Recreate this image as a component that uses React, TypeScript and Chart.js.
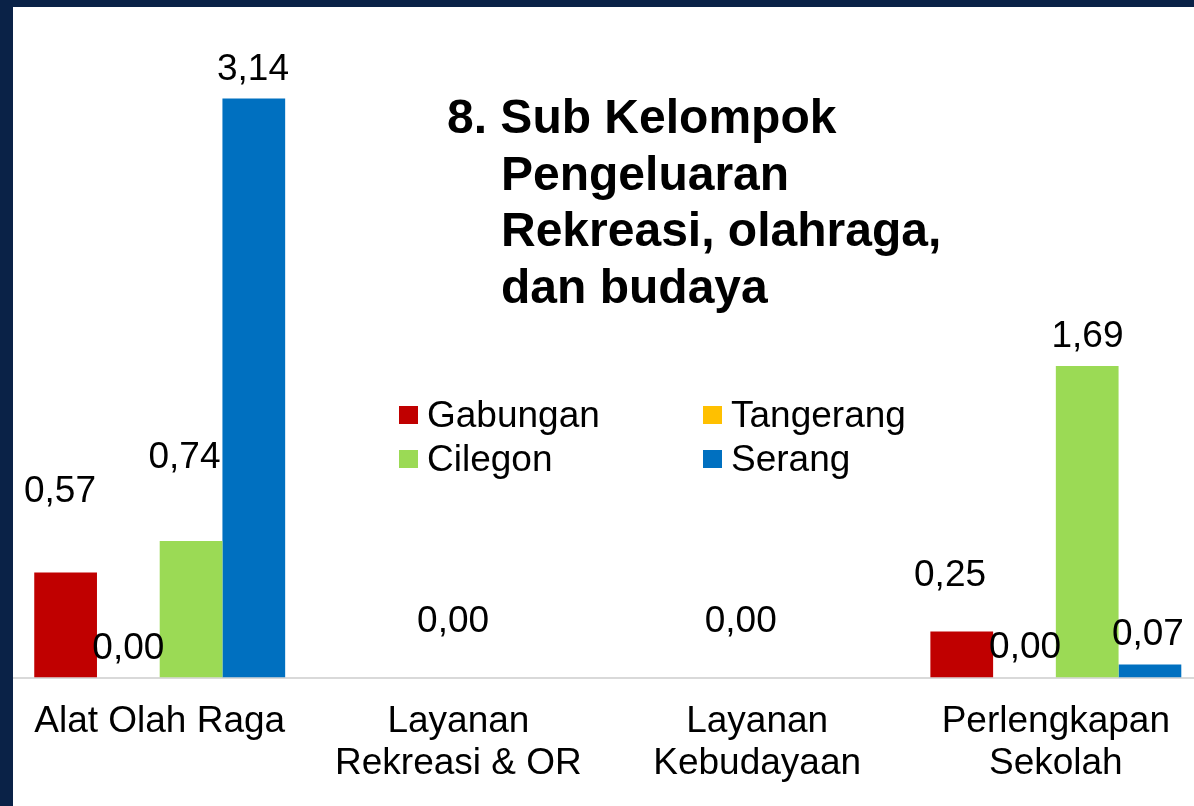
import React, { useEffect, useRef } from "react";
import { Chart, registerables } from "chart.js";

Chart.register(...registerables);

// ---- data ----
const categories: string[][] = [
  ["Alat Olah Raga"],
  ["Layanan", "Rekreasi & OR"],
  ["Layanan", "Kebudayaan"],
  ["Perlengkapan", "Sekolah"],
];
const seriesNames = ["Gabungan", "Tangerang", "Cilegon", "Serang"];
const gabungan = [0.57, 0.0, 0.0, 0.25];
const tangerang = [0.0, 0.0, 0.0, 0.0];
const cilegon = [0.74, 0.0, 0.0, 1.69];
const serang = [3.14, 0.0, 0.0, 0.07];
const titleLines = ["8. Sub Kelompok", "Pengeluaran", "Rekreasi, olahraga,", "dan budaya"];

// ---- styling / placement (not data) ----
const colors = ["#C00000", "#FFC000", "#9BDA55", "#0070C0"];
const NAVY = "#0a2247";
const FONT = '"Liberation Sans", Arial, sans-serif';
// value-label offsets from the top of each bar: [dx, baseline dy] or null (hidden)
const labelOffsets: (number[] | null)[][] = [
  [[-5.6, -70.3], null, null, [-11.7, -45]],
  [[0, -19], [26, -45.5], [15, -45.5], [0.6, -19.5]],
  [[-6.6, -73], null, null, [0.3, -19]],
  [[-0.8, -18.3], null, null, [-2, -19.6]],
];

const CANVAS_W = 1220;
const CANVAS_H = 806;

const overlayPlugin = {
  id: "overlay",
  afterDraw(chart: any) {
    const ctx = chart.ctx;
    ctx.save();
    // value labels
    ctx.font = `37px ${FONT}`;
    ctx.fillStyle = "#000";
    ctx.textAlign = "center";
    ctx.textBaseline = "alphabetic";
    chart.data.datasets.forEach((ds: any, i: number) => {
      const meta = chart.getDatasetMeta(i);
      meta.data.forEach((bar: any, j: number) => {
        const off = labelOffsets[i][j];
        if (!off) return;
        const v = ds.data[j] as number;
        const txt = v.toFixed(2).replace(".", ",");
        ctx.fillText(txt, bar.x + off[0], bar.y + off[1]);
      });
    });
    // title
    ctx.font = `bold 48px ${FONT}`;
    ctx.textAlign = "left";
    titleLines.forEach((line, k) => {
      ctx.fillText(line, k === 0 ? 447 : 501, 133.3 + k * 56.5);
    });
    // legend (2 columns)
    ctx.font = `37px ${FONT}`;
    const colX = [399, 703];
    const rowY = [406, 450];
    chart.data.datasets.forEach((ds: any, i: number) => {
      const col = i % 2;
      const row = Math.floor(i / 2);
      ctx.fillStyle = ds.backgroundColor;
      ctx.fillRect(colX[col], rowY[row], 19, 18);
      ctx.fillStyle = "#000";
      ctx.fillText(ds.label, colX[col] + 28, rowY[row] + 21);
    });
    ctx.restore();
  },
};

const whiteBg = {
  id: "whiteBg",
  beforeDraw(chart: any) {
    const ctx = chart.ctx;
    ctx.save();
    ctx.fillStyle = "#fff";
    ctx.fillRect(0, 0, chart.width, chart.height);
    ctx.restore();
  },
};

export default function App() {
  const ref = useRef<HTMLCanvasElement | null>(null);

  useEffect(() => {
    document.body.style.margin = "0";
    if (!ref.current) return;
    const seriesData = [gabungan, tangerang, cilegon, serang];
    const chart = new Chart(ref.current, {
      type: "bar",
      data: {
        labels: categories,
        datasets: seriesNames.map((name, i) => ({
          label: name,
          data: seriesData[i],
          backgroundColor: colors[i],
          borderWidth: 0,
          barPercentage: 1,
          categoryPercentage: 0.84,
        })),
      },
      options: {
        responsive: false,
        maintainAspectRatio: false,
        animation: false,
        layout: { padding: { left: 10.35, right: 14.8, top: 13.7, bottom: 0 } },
        plugins: {
          legend: { display: false },
          tooltip: { enabled: false },
          title: { display: false },
        },
        scales: {
          x: {
            grid: { display: false, drawTicks: false },
            border: { display: true, color: "#d9d9d9", width: 2 },
            ticks: {
              color: "#000",
              font: { family: FONT, size: 37, lineHeight: 1.16 },
              padding: 22.4,
              maxRotation: 0,
              autoSkip: false,
            },
            afterFit: (axis: any) => {
              axis.height = CANVAS_H - 677.5;
            },
          },
          y: { display: false, min: 0, max: 3.6 },
        },
      },
      plugins: [whiteBg, overlayPlugin],
    });
    return () => chart.destroy();
  }, []);

  return (
    <div
      style={{
        position: "fixed",
        left: 0,
        top: 0,
        width: 1194,
        height: 806,
        overflow: "hidden",
        background: "#fff",
      }}
    >
      <canvas
        ref={ref}
        width={CANVAS_W}
        height={CANVAS_H}
        style={{ position: "absolute", left: 0, top: 0, width: CANVAS_W, height: CANVAS_H }}
      />
      <div style={{ position: "absolute", left: 0, top: 0, width: 13, height: 806, background: NAVY }} />
      <div style={{ position: "absolute", left: 0, top: 0, width: 1194, height: 7, background: NAVY }} />
    </div>
  );
}
